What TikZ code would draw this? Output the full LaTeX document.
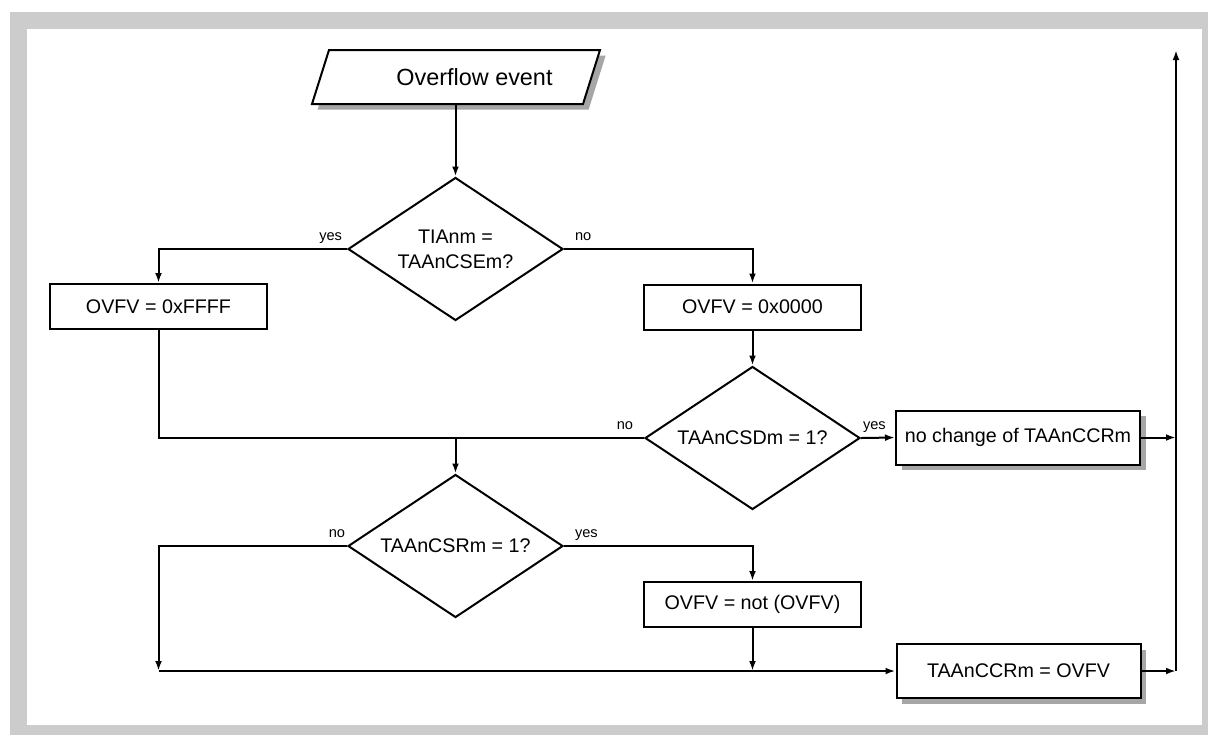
\documentclass[tikz,border=0pt]{standalone}
\usepackage{fontspec}
\setmainfont{Liberation Sans}
\usetikzlibrary{shapes.geometric}
\usetikzlibrary{arrows.meta}
\usetikzlibrary{shadows}

\begin{document}
\begin{tikzpicture}[x=0.5pt, y=-0.5pt, line width=1pt,
  >={Latex[length=5pt,width=3.4pt]},
  every node/.style={font=\fontsize{9.85}{12.5}\selectfont},
  dshadow/.style={drop shadow={shadow xshift=2.8pt, shadow yshift=-2.8pt, fill=black!35, opacity=1}},
  dec/.style={diamond, draw, aspect=1.5, inner sep=1pt, minimum width=107.5pt, minimum height=71.5pt, align=center},
  opbox/.style={rectangle, draw, fill=white, inner sep=2pt, minimum width=108.5pt, minimum height=22.5pt},
  outbox/.style={opbox, dshadow, minimum width=122pt, minimum height=27pt},
  lbl/.style={font=\fontsize{7.3}{8}\selectfont, inner sep=0pt, yshift=4.3pt}]

\useasboundingbox (0,0) rectangle (1208,735);
\fill[black!20] (10,12) rectangle (1208,735);
\fill[white] (27,29) rectangle (1202,725);

\draw[fill=white, dshadow] (312,104) -- (329,50) -- (600,50) -- (583,104) -- cycle;
\node[minimum height=27pt, inner sep=0pt, font=\fontsize{11.7}{14}\selectfont] (event) at (455.5,77) {\hspace*{19pt}Overflow event};

\node[dec] (d1) at (455.5,249) {TIAnm =\\TAAnCSEm?};
\node[dec] (d2) at (752.5,438) {TAAnCSDm = 1?};
\node[dec] (d3) at (455.5,546) {TAAnCSRm = 1?};

\node[opbox] (bff) at (158.5,306.5) {OVFV = 0xFFFF};
\node[opbox] (b00) at (752.5,307) {OVFV = 0x0000};
\node[opbox] (bnot) at (752.5,604.5) {OVFV = not (OVFV)};
\node[outbox] (bnc) at (1018,437.5) {no change of TAAnCCRm};
\node[outbox] (bccr) at (1018.5,671) {TAAnCCRm = OVFV};

\coordinate (rtop) at (1176,50);
\coordinate (rbot) at (rtop |- bccr.east);
\coordinate (lbot) at (bff.south |- bccr.west);

\draw[->] (event.south) -- (d1.north);
\draw[->] (d1.west) node[lbl, anchor=base east, xshift=-2pt]{yes} -| (bff.north);
\draw[->] (d1.east) node[lbl, anchor=base west, xshift=5pt]{no} -| (b00.north);
\draw[->] (b00.south) -- (d2.north);
\draw[->] (d2.east) node[lbl, anchor=base west, xshift=0.5pt]{yes} -- (bnc.west);
\draw[->] (bnc.east) -- (rtop |- bnc.east);
\draw (d2.west) node[lbl, anchor=base east, xshift=-5pt]{no} -| (bff.south);
\draw[->] (d3.north |- d2.west) -- (d3.north);
\draw[->] (d3.west) node[lbl, anchor=base east, xshift=-0.5pt]{no} -| (lbot);
\draw[->] (lbot) -- (bccr.west);
\draw[->] (d3.east) node[lbl, anchor=base west, xshift=5pt]{yes} -| (bnot.north);
\draw[->] (bnot.south) -- (bnot.south |- bccr.west);
\draw[->] (bccr.east) -- (rbot);
\draw[->] (rbot) -- (rtop);
\end{tikzpicture}
\end{document}
